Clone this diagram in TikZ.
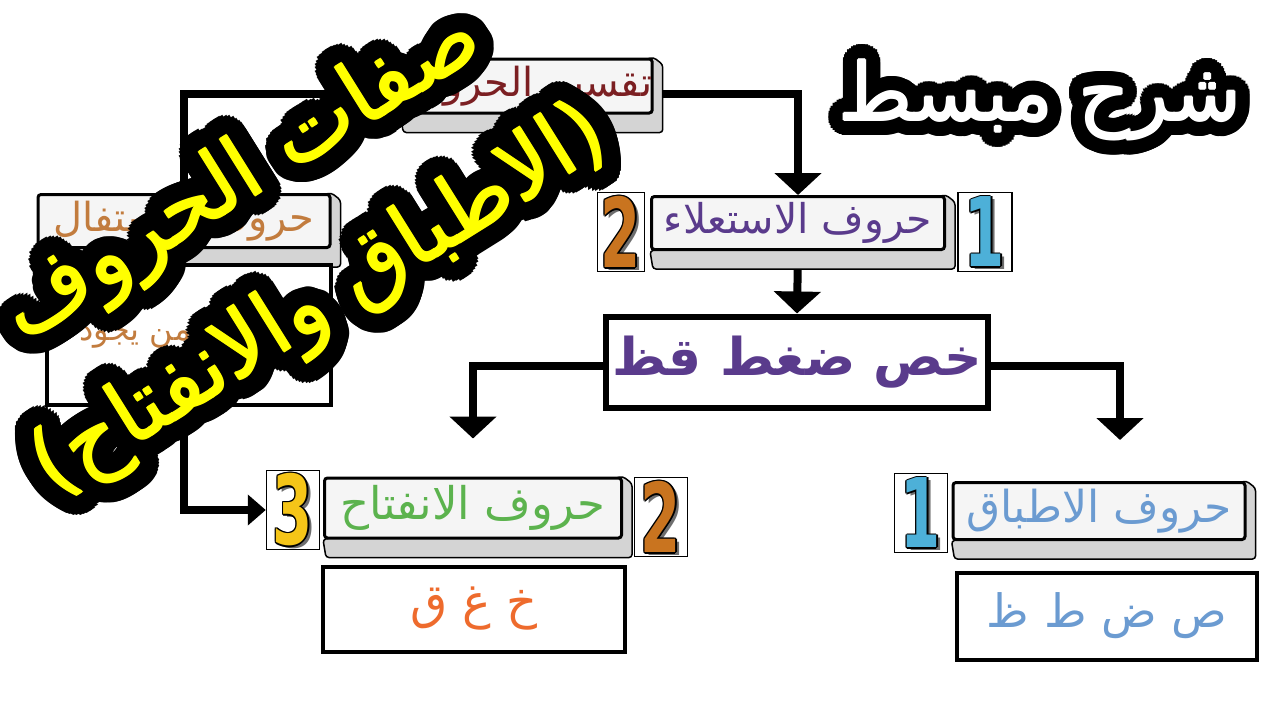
\documentclass[tikz,border=0pt]{standalone}
\usepackage{fontspec}
\usepackage{graphicx}
\setmainfont{DejaVu Sans}
\newfontfamily\arabicfont[Script=Arabic]{DejaVu Sans}
\TeXXeTstate=1
\usetikzlibrary{arrows.meta,calc,backgrounds}

\definecolor{capface}{HTML}{F5F5F5}
\definecolor{capside}{HTML}{D4D4D4}
\definecolor{headred}{HTML}{7B1F22}
\definecolor{istipurple}{HTML}{5A3B8C}
\definecolor{infigreen}{HTML}{5CB34E}
\definecolor{infiorange}{HTML}{EE6B2D}
\definecolor{itbaqblue}{HTML}{6B9BD1}
\definecolor{istifal}{HTML}{C27C3E}
\definecolor{onecol}{HTML}{4DB0D8}
\definecolor{twocol}{HTML}{C9741F}
\definecolor{threecol}{HTML}{F5C518}
\definecolor{digitshade}{HTML}{6E6E6E}
\definecolor{titleyellow}{HTML}{FFFF00}

\newcommand{\arsize}[1]{\arabicfont\fontsize{#1}{#1}\selectfont}
\newcommand{\digitglyph}[1]{\scalebox{0.6}[1]{\fontsize{96}{96}\selectfont\bfseries #1}}

\tikzset{
  capkey/.style={draw, line width=3pt, fill=capface, rounded corners=3pt, inner sep=0pt},
  listbox/.style={draw, line width=4pt, fill=white, inner sep=0pt},
  numbox/.style={draw, line width=1.5pt, fill=white, inner sep=0pt, minimum height=79pt},
  digitface/.style={inner sep=0pt},
  flow/.style={line width=8pt, -{Triangle[width=46pt,length=22pt]}},
  halo/.style={inner sep=0pt, align=center},
}

% grey bevel under a key cap
\newcommand{\bevel}[1]{%
  \filldraw[fill=capside, line width=1.5pt, rounded corners=3pt]
    (#1.north east) -- ($(#1.north east)+(9,7)$) -- ($(#1.south east)+(9,18)$)
    -- ($(#1.south west)+(3,18)$) -- (#1.south west) -- cycle;}

% framed 3d digit
\newcommand{\numtag}[5]{%
  \node[numbox, minimum width=#3pt] (#1) at (#2) {};
  \node[digitface, text=digitshade] at ($(#1)+(4,3)$) {\digitglyph{#5}};
  \foreach \a in {0,45,...,315}
    \node[digitface, text=black] at ($(#1)+(\a:1.4)$) {\digitglyph{#5}};
  \node[digitface, text=#4] at (#1) {\digitglyph{#5}};}

% text with a thick black rim
\newcommand{\outlined}[6][]{%
  \foreach \r in {#4}
    \foreach \a in {0,10,...,350}
      \node[halo, #1, text=black] at ($(#3)+(\a:\r)$) {#6};
  \foreach \a in {0,90,180,270}
    \node[halo, #1, text=#5] at ($(#3)+(\a:1)$) {#6};
  \node[halo, #1, text=#5] (#2) at (#3) {#6};}

\begin{document}
\begin{tikzpicture}[x=1pt,y=-1pt]
\useasboundingbox (0,0) rectangle (1280,720);

\node[capkey, minimum width=245pt, minimum height=54pt, text=headred] (split) at (527,86) {\arsize{40}\beginR تقسيم الحروف\endR};
\node[capkey, minimum width=292pt, minimum height=53pt, text=istifal] (istifal) at (184,221) {\arsize{40}\beginR حروف الاستفال\endR};
\node[listbox, minimum width=284pt, minimum height=140pt, text=istifal] (istifallist) at (189,335) {\arsize{32}\beginR ثبت عز من يجود\endR};

\node[capkey, minimum width=293pt, minimum height=53pt, text=istipurple] (isti) at (798,223) {\arsize{41}\beginR حروف الاستعلاء\endR};
\numtag{istitwo}{621,232}{47}{twocol}{2}
\numtag{istione}{985,232}{54}{onecol}{1}

\node[listbox, line width=6pt, minimum width=382pt, minimum height=91pt, text=istipurple] (letters) at (797,362) {\arsize{52}\bfseries\beginR خص ضغط قظ\endR};

\node[capkey, minimum width=297pt, minimum height=60pt, text=infigreen] (infitah) at (473,508) {\arsize{45}\beginR حروف الانفتاح\endR};
\numtag{infithree}{293,510}{53}{threecol}{3}
\numtag{infitwo}{661,517}{53}{twocol}{2}
\node[listbox, minimum width=302pt, minimum height=85pt, text=infiorange] (infilist) at (474,609) {\arsize{48}\beginR خ غ ق\endR};

\node[capkey, minimum width=292pt, minimum height=57pt, text=itbaqblue] (itbaq) at (1099,511) {\arsize{44}\beginR حروف الاطباق\endR};
\numtag{itbaqone}{921,513}{53}{onecol}{1}
\node[listbox, minimum width=300pt, minimum height=87pt, text=itbaqblue] (itbaqlist) at (1107,616) {\arsize{46}\beginR ص ض ط ظ\endR};

\begin{pgfonlayer}{background}
  \fill[white] (0,0) rectangle (1280,720);
  \draw[flow, -{Triangle[width=30pt,length=18pt]}] ([yshift=-8pt]split.west) -| ([xshift=-82pt]infithree.west) -- (infithree.west);
  \draw[flow] ([yshift=-8pt]split.east) -| (isti.north);
  \draw[flow] (isti.south) -- (letters.north);
  \draw[flow] ([yshift=-4pt]letters.west) -| ([yshift=38pt]infitah.north);
  \draw[flow] ([yshift=-4pt]letters.east) -| ([xshift=21pt,yshift=41pt]itbaq.north);
  \bevel{split}
  \bevel{istifal}
  \bevel{isti}
  \bevel{infitah}
  \bevel{itbaq}
\end{pgfonlayer}

\outlined{subtitle}{1040,100}{5,10,15}{white}{\arsize{80}\beginR شرح مبسط\endR}
\outlined[rotate=32, font=\arabicfont\fontsize{88}{148}\selectfont]{title}{282,240}{4,8,12,16,20}{titleyellow}{\beginR صفات الحروف\endR\\\beginR (الاطباق والانفتاح)\endR}
\end{tikzpicture}
\end{document}
